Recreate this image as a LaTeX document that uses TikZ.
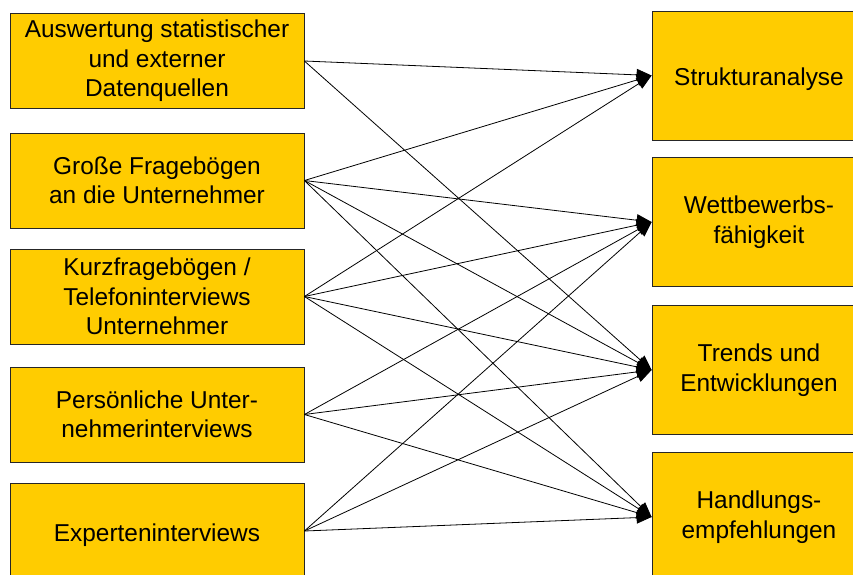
\documentclass[tikz,border=0pt]{standalone}
\usepackage{fontspec}
\setmainfont{Liberation Sans}
\usetikzlibrary{arrows.meta}
\definecolor{boxgold}{RGB}{255,204,0}
\begin{document}
\begin{tikzpicture}[x=1pt,y=-1pt,
  srcbox/.style={draw=black!85, fill=boxgold, line width=0.8pt, inner sep=0pt,
    minimum width=294pt, minimum height=95pt, align=center,
    font=\fontsize{24.4}{29.5}\selectfont,
    execute at begin node={\rule{0pt}{26pt}}},
  goalbox/.style={srcbox, minimum width=214pt, minimum height=129pt},
  link/.style={line width=0.8pt, -{Triangle[length=15pt,width=12pt]}}]
\useasboundingbox (0,0) rectangle (853,574);
\clip (0,0) rectangle (853,574);
% Quellen
\node[srcbox] (src0) at (157,61) {Auswertung statistischer\\und externer\\Datenquellen};
\node[srcbox] (src1) at (157,180.5) {Große Fragebögen\\an die Unternehmer};
\node[srcbox] (src2) at (157,296.5) {Kurzfragebögen /\\Telefoninterviews\\Unternehmer};
\node[srcbox] (src3) at (157,414.5) {Persönliche Unter-\\nehmerinterviews};
\node[srcbox] (src4) at (157,531) {Experteninterviews};
% Ziele
\node[goalbox] (goal0) at (759,75.5) {Strukturanalyse};
\node[goalbox] (goal1) at (759,222) {Wettbewerbs-\\fähigkeit};
\node[goalbox] (goal2) at (759,370) {Trends und\\Entwicklungen};
\node[goalbox] (goal3) at (759,517) {Handlungs-\\empfehlungen};
% Verbindungen
\draw[link] (src0.east) -- (goal0.west);
\draw[link] (src0.east) -- (goal2.west);
\draw[link] (src1.east) -- (goal0.west);
\draw[link] (src1.east) -- (goal1.west);
\draw[link] (src1.east) -- (goal2.west);
\draw[link] (src1.east) -- (goal3.west);
\draw[link] (src2.east) -- (goal0.west);
\draw[link] (src2.east) -- (goal1.west);
\draw[link] (src2.east) -- (goal2.west);
\draw[link] (src2.east) -- (goal3.west);
\draw[link] (src3.east) -- (goal1.west);
\draw[link] (src3.east) -- (goal2.west);
\draw[link] (src3.east) -- (goal3.west);
\draw[link] (src4.east) -- (goal1.west);
\draw[link] (src4.east) -- (goal2.west);
\draw[link] (src4.east) -- (goal3.west);
\end{tikzpicture}
\end{document}
